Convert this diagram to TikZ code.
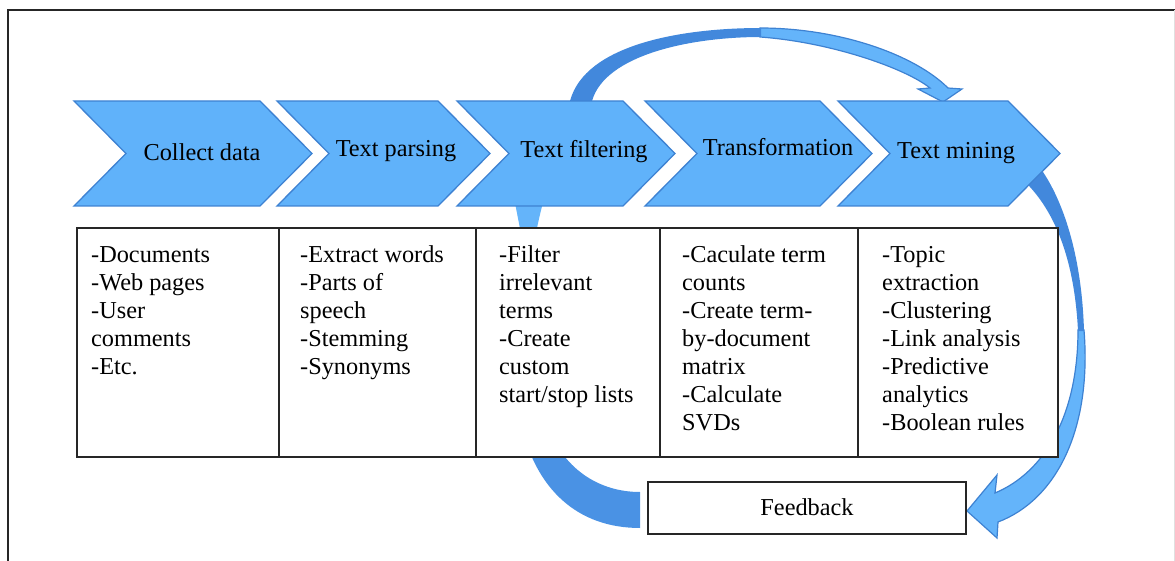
\documentclass[tikz,border=0pt]{standalone}
\usepackage{fontspec}
\setmainfont{Liberation Serif}
\definecolor{chevfill}{RGB}{96,178,250}
\definecolor{chevline}{RGB}{62,130,210}
\definecolor{ribbondark}{RGB}{66,136,220}
\definecolor{ribbonmid}{RGB}{74,146,228}
\definecolor{ribbonlight}{RGB}{100,180,250}
\newcommand\chevronat[2]{%
  \path[chev] (#1,101) -- ({#2-52},101) -- (#2,153.5) -- ({#2-52},206)
    -- (#1,206) -- ({#1+52},153.5) -- cycle;}
\begin{document}
\begin{tikzpicture}[x=1pt,y=-1pt,
  chev/.style={fill=chevfill,draw=chevline,line width=1.3pt,line join=miter},
  lbl/.style={font=\fontsize{24.3}{28}\selectfont,inner sep=0pt},
  head/.style={lbl,anchor=base},
  cell/.style={lbl,align=left,anchor=north west},
  rule/.style={draw=black!85,line width=2pt},
  ribbonfront/.style={fill=ribbonlight,draw=chevline,line width=1.2pt,line join=miter}]
\useasboundingbox (0,0) rectangle (1175,561);

% frame
\draw[black!85,line width=2.5pt] (8,561) -- (8,10) -- (1175,10);
\draw[black!12,line width=1pt] (1174,10) -- (1174,561);

% feedback loop: lower band coming out of the feedback box
\path[fill=ribbonmid] (640,528) .. controls (578,528) and (535,490) .. (520,420)
  .. controls (512,380) and (510,340) .. (512,300) -- (540,300)
  .. controls (538,340) and (538,380) .. (545,420)
  .. controls (562,470) and (600,492) .. (640,492) -- cycle;
% band between the table and the chevrons
\path[fill=ribbonlight] (512,185) .. controls (515,205) and (519,222) .. (523,245)
  -- (534,245) .. controls (537,225) and (542,205) .. (548,185) -- cycle;
% arc over the chevrons: front face with head, then back face
\path[ribbonfront] (760,28) .. controls (840,28) and (915,55) .. (948,88)
  -- (962,89) -- (943,102) -- (918,89) -- (930,88)
  .. controls (905,68) and (830,42) .. (760,37) -- cycle;
\path[fill=ribbondark] (566,125) -- (570,101) .. controls (585,45) and (680,28) .. (761,28)
  -- (761,37) .. controls (690,37) and (605,55) .. (592,101) -- (590,125) -- cycle;

% arrow from text mining down to feedback
\path[ribbonfront] (1084,330) .. controls (1092,430) and (1056,500) .. (998,522)
  -- (997,538) -- (967,511) -- (997,475) -- (995,493)
  .. controls (1045,472) and (1078,415) .. (1078,330) -- cycle;
\path[fill=ribbondark] (1035,160) -- (1043,172) .. controls (1065,205) and (1082,260) .. (1084,331)
  -- (1078,331) .. controls (1075,270) and (1060,220) .. (1030,187) -- (1020,175) -- cycle;

% process chevrons
\chevronat{74}{312}
\chevronat{277}{490}
\chevronat{457}{675}
\chevronat{645}{872}
\chevronat{838}{1060}
\node[head] (collect) at (202,161) {Collect data};
\node[head] (parse) at (396,157) {Text parsing};
\node[head] (filter) at (584,158) {Text filtering};
\node[head] (transform) at (778,156) {Transformation};
\node[head] (mine) at (956,159) {Text mining};

% detail table
\path[rule,fill=white] (77,228) rectangle (1058,457);
\foreach \x in {279,476,660,858} \draw[rule] (\x,228) -- (\x,457);
\node[cell] (d1) at (91,242) {\rule{0pt}{20pt}-Documents\\-Web pages\\-User\\comments\\-Etc.};
\node[cell] (d2) at (300,242) {\rule{0pt}{20pt}-Extract words\\-Parts of\\speech\\-Stemming\\-Synonyms};
\node[cell] (d3) at (499,242) {\rule{0pt}{20pt}-Filter\\irrelevant\\terms\\-Create\\custom\\start/stop lists};
\node[cell] (d4) at (682,242) {\rule{0pt}{20pt}-Caculate term\\counts\\-Create term-\\by-document\\matrix\\-Calculate\\SVDs};
\node[cell] (d5) at (882,242) {\rule{0pt}{20pt}-Topic\\extraction\\-Clustering\\-Link analysis\\-Predictive\\analytics\\-Boolean rules};

% feedback box
\path[rule,fill=white] (648,482) rectangle (966,534);
\node[head] (feedback) at (807,515) {Feedback};
\end{tikzpicture}
\end{document}
